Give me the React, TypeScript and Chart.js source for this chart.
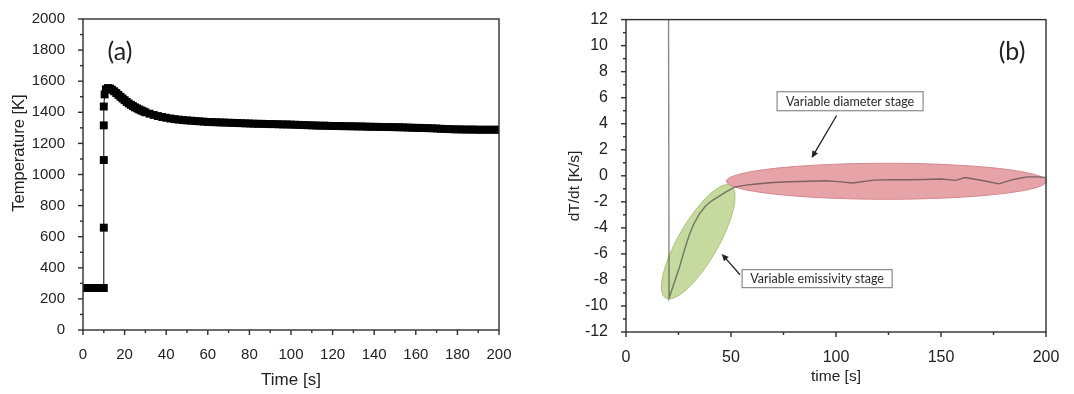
import React, { useEffect, useRef } from 'react';
import { Chart, registerables } from 'chart.js';

Chart.register(...registerables);

// ---------- Panel (a): temperature vs time ----------
const timeA = [
  0, 1, 2, 3, 4, 5, 6, 7, 8, 9, 10,
  10, 10, 10, 10, 10.4, 11, 12, 13, 14, 15, 16, 17, 18, 19, 20,
  21, 22, 23, 24, 25, 26, 27, 28, 29, 30,
  32, 34, 36, 38, 40, 42, 44, 46, 48, 50,
  52, 54, 56, 58, 60, 62, 64, 66, 68, 70,
  72, 74, 76, 78, 80, 82, 84, 86, 88, 90,
  92, 94, 96, 98, 100, 102, 104, 106, 108, 110,
  112, 114, 116, 118, 120, 122, 124, 126, 128, 130,
  132, 134, 136, 138, 140, 142, 144, 146, 148, 150,
  152, 154, 156, 158, 160, 162, 164, 166, 168, 170,
  172, 174, 176, 178, 180, 182, 184, 186, 188, 190,
  192, 194, 196, 198, 200,
];
const tempA = [
  270, 270, 270, 270, 270, 270, 270, 270, 270, 270, 270,
  658, 1093, 1316, 1437, 1515, 1548, 1556, 1553, 1545, 1535, 1524, 1512, 1500, 1489, 1478,
  1467, 1457, 1448, 1440, 1432, 1425, 1418, 1412, 1406, 1400,
  1391, 1383, 1376, 1370, 1365, 1360, 1356, 1353, 1350, 1348,
  1346, 1344, 1342, 1340, 1338, 1337, 1336, 1335, 1334, 1333,
  1332, 1331, 1330, 1329, 1328, 1327, 1326, 1326, 1325, 1324,
  1324, 1323, 1322, 1322, 1321, 1320, 1319, 1318, 1317, 1316,
  1315, 1314, 1314, 1313, 1312, 1312, 1311, 1311, 1310, 1310,
  1309, 1309, 1308, 1307, 1307, 1306, 1306, 1305, 1305, 1304,
  1304, 1303, 1302, 1301, 1300, 1300, 1299, 1298, 1297, 1296,
  1294, 1293, 1292, 1291, 1290, 1290, 1289, 1289, 1289, 1288,
  1288, 1288, 1288, 1288, 1288,
];
const xTicksA = [0, 20, 40, 60, 80, 100, 120, 140, 160, 180, 200];
const yTicksA = [0, 200, 400, 600, 800, 1000, 1200, 1400, 1600, 1800, 2000];

// ---------- Panel (b): dT/dt vs time ----------
const timeB = [
  19.5, 20.5, 23, 25.5, 28, 30, 32, 35, 38, 41, 45, 48, 52, 57, 62, 70, 78, 87, 95,
  101, 108, 118, 126, 134, 142, 150, 157, 161.5, 165.5, 171, 177.5, 184.5, 191, 196, 200,
];
const rateB = [
  80, -9.4, -8.2, -7.0, -5.6, -4.6, -3.8, -2.9, -2.3, -1.9, -1.5, -1.2, -0.85, -0.72, -0.63, -0.52, -0.46, -0.42, -0.38,
  -0.45, -0.55, -0.33, -0.3, -0.3, -0.28, -0.25, -0.35, -0.13, -0.25, -0.4, -0.62, -0.28, -0.08, -0.08, -0.13,
];
const xTicksB = [0, 50, 100, 150, 200];
const yTicksB = [-12, -10, -8, -6, -4, -2, 0, 2, 4, 6, 8, 10, 12];

const stageLabels = ['Variable diameter stage', 'Variable emissivity stage'];

const AXIS_FONT = '"Liberation Sans", Arial, sans-serif';
const NOTE_FONT = 'Lato, "Open Sans", sans-serif';

// frame + major/minor outward ticks
const framePlugin = {
  id: 'frame',
  afterDraw(chart: any, _args: any, o: any) {
    const { ctx, chartArea } = chart;
    const { left, right, top, bottom } = chartArea;
    const x = chart.scales.x;
    const y = chart.scales.y;
    ctx.save();
    ctx.strokeStyle = o.color;
    ctx.lineWidth = o.lineWidth;
    ctx.strokeRect(left, top, right - left, bottom - top);
    const isMajor = (v: number, min: number, step: number) => {
      const q = (v - min) / step;
      return Math.abs(q - Math.round(q)) < 1e-6;
    };
    const ny = Math.round((y.max - y.min) / o.yMinor);
    for (let i = 0; i <= ny; i++) {
      const v = y.min + i * o.yMinor;
      const py = y.getPixelForValue(v);
      const len = isMajor(v, y.min, o.yMajor) ? o.majorLen : o.minorLen;
      ctx.beginPath();
      ctx.moveTo(left - len, py);
      ctx.lineTo(left, py);
      ctx.stroke();
    }
    const nx = Math.round((x.max - x.min) / o.xMinor);
    for (let i = 0; i <= nx; i++) {
      const v = x.min + i * o.xMinor;
      const px = x.getPixelForValue(v);
      const len = isMajor(v, x.min, o.xMajor) ? o.majorLen : o.minorLen;
      ctx.beginPath();
      ctx.moveTo(px, bottom);
      ctx.lineTo(px, bottom + len);
      ctx.stroke();
    }
    ctx.restore();
  },
};

// free texts (axis titles, panel letters)
const textPlugin = {
  id: 'texts',
  afterDraw(chart: any, _args: any, o: any) {
    const { ctx } = chart;
    for (const t of o.items || []) {
      ctx.save();
      ctx.translate(t.x, t.y);
      if (t.rotate) ctx.rotate(t.rotate);
      ctx.font = t.font;
      ctx.fillStyle = t.color || '#222';
      ctx.textAlign = 'center';
      ctx.textBaseline = 'middle';
      ctx.fillText(t.text, 0, 0);
      ctx.restore();
    }
  },
};

// stage ellipses (drawn under the line)
const ellipsePlugin = {
  id: 'ellipses',
  beforeDatasetsDraw(chart: any, _args: any, o: any) {
    const { ctx } = chart;
    const x = chart.scales.x;
    const y = chart.scales.y;
    for (const e of o.items || []) {
      ctx.save();
      ctx.beginPath();
      ctx.ellipse(x.getPixelForValue(e.cx), y.getPixelForValue(e.cy), e.rx, e.ry, e.rot, 0, Math.PI * 2);
      ctx.fillStyle = e.fill;
      ctx.fill();
      ctx.lineWidth = 1;
      ctx.strokeStyle = e.stroke;
      ctx.stroke();
      ctx.restore();
    }
  },
};

// callout boxes + arrows
const calloutPlugin = {
  id: 'callouts',
  afterDatasetsDraw(chart: any, _args: any, o: any) {
    const { ctx } = chart;
    const x = chart.scales.x;
    const y = chart.scales.y;
    for (const a of o.arrows || []) {
      const x1 = x.getPixelForValue(a.from[0]);
      const y1 = y.getPixelForValue(a.from[1]);
      const x2 = x.getPixelForValue(a.to[0]);
      const y2 = y.getPixelForValue(a.to[1]);
      const ang = Math.atan2(y2 - y1, x2 - x1);
      const hl = 7;
      const hw = 3.2;
      ctx.save();
      ctx.strokeStyle = '#222';
      ctx.fillStyle = '#222';
      ctx.lineWidth = 1.3;
      ctx.beginPath();
      ctx.moveTo(x1, y1);
      ctx.lineTo(x2 - Math.cos(ang) * hl * 0.8, y2 - Math.sin(ang) * hl * 0.8);
      ctx.stroke();
      ctx.beginPath();
      ctx.moveTo(x2, y2);
      ctx.lineTo(x2 - Math.cos(ang) * hl - Math.sin(ang) * hw, y2 - Math.sin(ang) * hl + Math.cos(ang) * hw);
      ctx.lineTo(x2 - Math.cos(ang) * hl + Math.sin(ang) * hw, y2 - Math.sin(ang) * hl - Math.cos(ang) * hw);
      ctx.closePath();
      ctx.fill();
      ctx.restore();
    }
    for (const b of o.boxes || []) {
      const cx = x.getPixelForValue(b.at[0]);
      const cy = y.getPixelForValue(b.at[1]);
      ctx.save();
      ctx.fillStyle = '#fff';
      ctx.strokeStyle = '#8a8a8a';
      ctx.lineWidth = 1.2;
      ctx.fillRect(cx - b.w / 2, cy - b.h / 2, b.w, b.h);
      ctx.strokeRect(cx - b.w / 2, cy - b.h / 2, b.w, b.h);
      ctx.font = `12.5px ${NOTE_FONT}`;
      ctx.fillStyle = '#2a2a2a';
      ctx.textAlign = 'center';
      ctx.textBaseline = 'middle';
      ctx.fillText(b.text, cx, cy + 0.5);
      ctx.restore();
    }
  },
};

const fixedTicks = (list: number[]) => (s: any) => {
  s.ticks = list.map((v) => ({ value: v }));
};
const plainLabel = (v: any) => String(v);

function PanelA() {
  const ref = useRef<HTMLCanvasElement>(null);
  useEffect(() => {
    const chart = new Chart(ref.current as HTMLCanvasElement, {
      type: 'line',
      data: {
        datasets: [
          {
            data: timeA.map((t, i) => ({ x: t, y: tempA[i] })),
            borderColor: '#000',
            borderWidth: 1,
            pointStyle: 'rect',
            pointRadius: 5.6,
            pointBackgroundColor: '#000',
            pointBorderWidth: 0,
            clip: 0,
            tension: 0,
          } as any,
        ],
      },
      options: {
        responsive: false,
        animation: false,
        devicePixelRatio: 1,
        events: [],
        layout: { padding: { top: 16, right: 41, left: 0, bottom: 0 } },
        plugins: {
          legend: { display: false },
          tooltip: { enabled: false },
          frame: { color: '#2e2e2e', lineWidth: 1.4, majorLen: 5, minorLen: 3, xMajor: 20, xMinor: 10, yMajor: 200, yMinor: 100 },
          texts: {
            items: [
              { text: '(a)', x: 120, y: 52, font: `25px ${NOTE_FONT}`, color: '#222' },
              { text: 'Temperature [K]', x: 19, y: 153, rotate: -Math.PI / 2, font: `16.5px ${AXIS_FONT}`, color: '#222' },
              { text: 'Time [s]', x: 291, y: 380, font: `17px ${AXIS_FONT}`, color: '#222' },
            ],
          },
        } as any,
        scales: {
          x: {
            type: 'linear',
            min: 0,
            max: 200,
            afterBuildTicks: fixedTicks(xTicksA),
            afterFit: (s: any) => { s.height = 64; },
            grid: { display: false },
            border: { display: false },
            ticks: { font: { family: AXIS_FONT, size: 15 }, color: '#222', padding: 8, maxRotation: 0, autoSkip: false, callback: plainLabel },
          },
          y: {
            type: 'linear',
            min: 0,
            max: 2000,
            afterBuildTicks: fixedTicks(yTicksA),
            afterFit: (s: any) => { s.width = 83; },
            grid: { display: false },
            border: { display: false },
            ticks: { font: { family: AXIS_FONT, size: 15 }, color: '#222', padding: 10, autoSkip: false, callback: plainLabel },
          },
        } as any,
      },
      plugins: [framePlugin, textPlugin],
    });
    return () => chart.destroy();
  }, []);
  return <canvas ref={ref} width={540} height={394} style={{ position: 'absolute', left: 0, top: 0 }} />;
}

function PanelB() {
  const ref = useRef<HTMLCanvasElement>(null);
  useEffect(() => {
    const chart = new Chart(ref.current as HTMLCanvasElement, {
      type: 'line',
      data: {
        datasets: [
          {
            data: timeB.map((t, i) => ({ x: t, y: rateB[i] })),
            borderColor: 'rgba(50,50,50,0.58)',
            borderWidth: 1.4,
            pointRadius: 0,
            clip: 0,
            tension: 0,
          } as any,
        ],
      },
      options: {
        responsive: false,
        animation: false,
        devicePixelRatio: 1,
        events: [],
        layout: { padding: { top: 16, right: 28, left: 0, bottom: 0 } },
        plugins: {
          legend: { display: false },
          tooltip: { enabled: false },
          frame: { color: '#2e2e2e', lineWidth: 1.4, majorLen: 5, minorLen: 3, xMajor: 50, xMinor: 25, yMajor: 2, yMinor: 1 },
          ellipses: {
            items: [
              { cx: 34.4, cy: -5.07, rx: 65, ry: 20, rot: -Math.PI / 3, fill: '#c6d99e', stroke: '#aac47f' },
              { cx: 124, cy: -0.42, rx: 160, ry: 18, rot: 0, fill: '#e6a4a9', stroke: '#d4878e' },
            ],
          },
          callouts: {
            boxes: [
              { text: stageLabels[0], at: [106.7, 5.73], w: 146, h: 19 },
              { text: stageLabels[1], at: [91, -7.9], w: 150, h: 18 },
            ],
            arrows: [
              { from: [100.3, 4.63], to: [88.4, 1.37] },
              { from: [54.3, -7.6], to: [45.6, -6.0] },
            ],
          },
          texts: {
            items: [
              { text: '(b)', x: 472, y: 52, font: `25px ${NOTE_FONT}`, color: '#222' },
              { text: 'dT/dt [K/s]', x: 35, y: 186, rotate: -Math.PI / 2, font: `15.5px ${AXIS_FONT}`, color: '#222' },
              { text: 'time [s]', x: 296, y: 377, font: `15.5px ${AXIS_FONT}`, color: '#222' },
            ],
          },
        } as any,
        scales: {
          x: {
            type: 'linear',
            min: 0,
            max: 200,
            afterBuildTicks: fixedTicks(xTicksB),
            afterFit: (s: any) => { s.height = 62; },
            grid: { display: false },
            border: { display: false },
            ticks: { font: { family: AXIS_FONT, size: 16 }, color: '#222', padding: 8, maxRotation: 0, autoSkip: false, callback: plainLabel },
          },
          y: {
            type: 'linear',
            min: -12,
            max: 12,
            afterBuildTicks: fixedTicks(yTicksB),
            afterFit: (s: any) => { s.width = 86; },
            grid: { display: false },
            border: { display: false },
            ticks: { font: { family: AXIS_FONT, size: 16 }, color: '#222', padding: 10, autoSkip: false, callback: plainLabel },
          },
        } as any,
      },
      plugins: [framePlugin, ellipsePlugin, calloutPlugin, textPlugin],
    });
    return () => chart.destroy();
  }, []);
  return <canvas ref={ref} width={534} height={394} style={{ position: 'absolute', left: 540, top: 0 }} />;
}

export default function App() {
  return (
    <div style={{ position: 'absolute', left: 0, top: 0, width: 1074, height: 394, background: '#fff', overflow: 'hidden' }}>
      <PanelA />
      <PanelB />
    </div>
  );
}
